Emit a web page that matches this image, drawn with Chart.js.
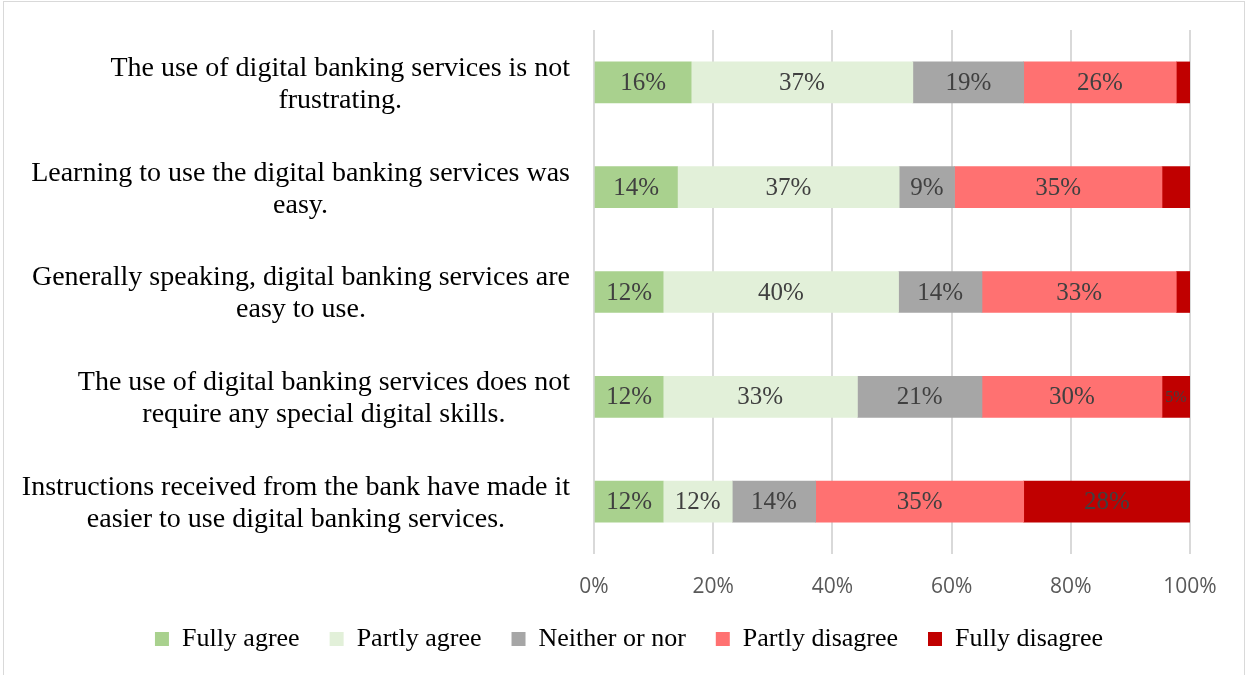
<!DOCTYPE html>
<html>
<head>
<meta charset="utf-8">
<script src="https://cdn.jsdelivr.net/npm/chart.js@4/dist/chart.umd.min.js"></script>
<style>
  html, body { margin: 0; padding: 0; background: #fff; }
  #frame {
    position: absolute; left: 3px; top: 1px; width: 1242px; height: 700px;
    border: 1px solid #d9d9d9; box-sizing: border-box;
  }
  #wrap { position: absolute; left: 0; top: 0; width: 1246px; height: 675px; }
</style>
</head>
<body>
<div id="frame"></div>
<div id="wrap"><canvas id="surveyChart" width="1246" height="675"></canvas></div>
<script>
// statements, top to bottom (each split into the two lines it is printed on)
const statements = [
  ['The use of digital banking services is not', 'frustrating.'],
  ['Learning to use the digital banking services was', 'easy.'],
  ['Generally speaking, digital banking services are', 'easy to use.'],
  ['The use of digital banking services does not', 'require any special digital skills.'],
  ['Instructions received from the bank have made it', 'easier to use digital banking services.']
];

const answers = ['Fully agree', 'Partly agree', 'Neither or nor', 'Partly disagree', 'Fully disagree'];

// share of respondents, %
const fullyAgree     = [16.3, 14.0, 11.6, 11.6, 11.6];
const partlyAgree    = [37.2, 37.2, 39.5, 32.6, 11.6];
const neither        = [18.6, 9.3, 14.0, 20.9, 14.0];
const partlyDisagree = [25.6, 34.8, 32.6, 30.2, 34.9];
const fullyDisagree  = [2.3, 4.7, 2.3, 4.7, 27.9];

const xTicks = [0, 20, 40, 60, 80, 100];

// the thin red end pieces only get a label on the last two rows
const disagreeLabelShown = [false, false, false, true, true];

const colors = ['#a9d18e', '#e2f0d9', '#a6a6a6', '#ff7171', '#c00000'];
const series = [fullyAgree, partlyAgree, neither, partlyDisagree, fullyDisagree];

const serif = "'Liberation Serif', 'Times New Roman', serif";
const leftPad = 68;

// percent labels in the middle of every segment
const segmentLabels = {
  id: 'segmentLabels',
  afterDatasetsDraw(chart) {
    const ctx = chart.ctx;
    ctx.save();
    ctx.textAlign = 'center';
    ctx.textBaseline = 'middle';
    ctx.fillStyle = '#404040';
    chart.data.datasets.forEach((ds, di) => {
      chart.getDatasetMeta(di).data.forEach((bar, i) => {
        const last = di === chart.data.datasets.length - 1;
        if (last && !disagreeLabelShown[i]) return;
        const small = last && ds.data[i] < 10;
        ctx.font = (small ? '16px ' : '25px ') + serif;
        ctx.fillText(Math.round(ds.data[i]) + '%', (bar.x + bar.base) / 2, bar.y + 1);
      });
    });
    ctx.restore();
  }
};

// statement text left of the bars: block right-aligned, lines centred in it
const statementLabels = {
  id: 'statementLabels',
  afterDraw(chart) {
    const ctx = chart.ctx;
    const yScale = chart.scales.y;
    const right = chart.chartArea.left - 24;
    const lineGap = 32;
    ctx.save();
    ctx.font = '28px ' + serif;
    ctx.fillStyle = '#000';
    ctx.textAlign = 'center';
    ctx.textBaseline = 'middle';
    statements.forEach((lines, i) => {
      const yc = yScale.getPixelForValue(i) + 2;
      const widest = Math.max(...lines.map(l => ctx.measureText(l).width));
      const cx = right - widest / 2;
      lines.forEach((line, k) => {
        ctx.fillText(line, cx, yc + (k - (lines.length - 1) / 2) * lineGap);
      });
    });
    ctx.restore();
  }
};

new Chart(document.getElementById('surveyChart'), {
  type: 'bar',
  data: {
    labels: statements,
    datasets: series.map((data, i) => ({
      label: answers[i],
      data: data,
      backgroundColor: colors[i],
      borderWidth: 0,
      barThickness: 41
    }))
  },
  options: {
    indexAxis: 'y',
    responsive: false,
    animation: false,
    events: [],
    layout: { padding: { top: 30, right: 56, left: leftPad, bottom: 13 } },
    scales: {
      x: {
        stacked: true,
        min: 0,
        max: 100,
        afterBuildTicks: scale => { scale.ticks = xTicks.map(v => ({ value: v })); },
        afterFit: scale => { scale.height = 42; },
        grid: { color: '#d9d9d9', lineWidth: 2, drawTicks: false },
        border: { display: false },
        ticks: {
          padding: 20,
          color: '#595959',
          font: { family: "'Open Sans', sans-serif", size: 21 },
          callback: v => v + '%'
        }
      },
      y: {
        stacked: true,
        afterFit: scale => { scale.width = 594 - leftPad; },
        grid: { display: false },
        border: { display: false },
        ticks: { display: false }
      }
    },
    plugins: {
      legend: {
        position: 'bottom',
        labels: {
          boxWidth: 14,
          boxHeight: 14,
          padding: 30,
          color: '#000',
          font: { family: serif, size: 26 }
        }
      },
      tooltip: { enabled: false }
    }
  },
  plugins: [segmentLabels, statementLabels]
});
</script>
</body>
</html>
